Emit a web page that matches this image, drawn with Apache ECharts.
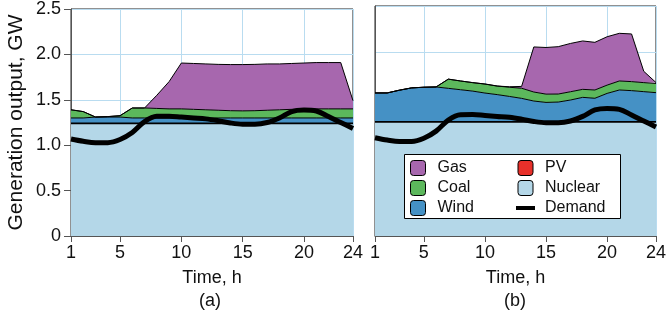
<!DOCTYPE html>
<html>
<head>
<meta charset="utf-8">
<script src="https://cdn.jsdelivr.net/npm/echarts@6/dist/echarts.min.js"></script>
<style>
    html, body { margin: 0; padding: 0; background: #fff; }
    #chart { width: 669px; height: 313px; }
</style>
</head>
<body>
<div id="chart"></div>
<script>
// hours 1..24
var hours = [];
for (var h = 1; h <= 24; h++) hours.push(String(h));
var shownHours = ["1", "5", "10", "15", "20", "24"];

// GW
var nuclear = [1.24, 1.24, 1.24, 1.24, 1.24, 1.24, 1.24, 1.24, 1.24, 1.24, 1.24, 1.24,
    1.24, 1.24, 1.24, 1.24, 1.24, 1.24, 1.24, 1.24, 1.24, 1.24, 1.24, 1.24];
var pv = [0, 0, 0, 0, 0, 0, 0, 0, 0, 0, 0, 0, 0, 0, 0, 0, 0, 0, 0, 0, 0, 0, 0, 0];
var demand = [1.068, 1.043, 1.027, 1.028, 1.063, 1.14, 1.26, 1.318, 1.32, 1.31, 1.30, 1.29,
    1.27, 1.245, 1.232, 1.232, 1.25, 1.30, 1.37, 1.387, 1.377, 1.315, 1.25, 1.185];

// (a)
var windA = [0.06, 0.06, 0.07, 0.07, 0.07, 0.06, 0.06, 0.06, 0.06, 0.06, 0.06, 0.06,
    0.06, 0.06, 0.06, 0.06, 0.06, 0.06, 0.06, 0.06, 0.06, 0.06, 0.06, 0.06];
var coalA = [0.09, 0.07, 0, 0.005, 0.015, 0.11, 0.11, 0.105, 0.10, 0.10, 0.095, 0.09,
    0.085, 0.08, 0.078, 0.08, 0.085, 0.09, 0.095, 0.10, 0.10, 0.10, 0.10, 0.10];
var gasA = [0, 0, 0, 0, 0, 0, 0, 0.145, 0.30, 0.505, 0.505, 0.505,
    0.505, 0.508, 0.51, 0.51, 0.51, 0.505, 0.505, 0.505, 0.51, 0.51, 0.51, 0.09];

// (b)
var windB = [0.315, 0.315, 0.345, 0.37, 0.377, 0.38, 0.365, 0.35, 0.335, 0.314, 0.297, 0.277,
    0.256, 0.227, 0.212, 0.216, 0.238, 0.267, 0.257, 0.31, 0.347, 0.34, 0.329, 0.318];
var coalB = [0, 0, 0, 0, 0, 0, 0.10, 0.095, 0.092, 0.098, 0.093, 0.10,
    0.11, 0.098, 0.09, 0.087, 0.09, 0.087, 0.09, 0.09, 0.098, 0.098, 0.098, 0.10];
var gasB = [0, 0, 0, 0, 0, 0, 0, 0, 0, 0, 0, 0.005,
    0.02, 0.49, 0.507, 0.515, 0.525, 0.526, 0.518, 0.526, 0.518, 0.518, 0.123, 0.01];

var COLORS = {
    Gas: "#a767ae",
    Coal: "#5cb85c",
    Wind: "#4591c5",
    PV: "#e8302a",
    Nuclear: "#b4d7e8"
};
var FONT = "Liberation Sans";
var GRID_COLOR = "#b9dcf0";
var SQUARE = "path://M3,0H12A3,3 0 0 1 15,3V12A3,3 0 0 1 12,15H3A3,3 0 0 1 0,12V3A3,3 0 0 1 3,0Z";

function showHour(idx, val) {
    return shownHours.indexOf(String(val)) >= 0;
}

function areaSeries(name, data, idx, lineWidth) {
    return {
        name: name,
        type: "line",
        xAxisIndex: idx,
        yAxisIndex: idx,
        stack: "gen" + idx,
        data: data,
        color: COLORS[name],
        symbol: "none",
        lineStyle: { color: "#000", width: lineWidth },
        areaStyle: { color: COLORS[name], opacity: 1 },
        silent: true,
        z: 2
    };
}

function panelSeries(idx, wind, coal, gas) {
    return [
        areaSeries("Nuclear", nuclear, idx, 1.6),
        areaSeries("PV", pv, idx, 0),
        areaSeries("Wind", wind, idx, 1),
        areaSeries("Coal", coal, idx, 1),
        areaSeries("Gas", gas, idx, 1),
        {
            name: "Demand",
            type: "line",
            xAxisIndex: idx,
            yAxisIndex: idx,
            data: demand,
            color: "#000",
            symbol: "none",
            smooth: 0.35,
            lineStyle: { color: "#000", width: 5 },
            z: 3
        }
    ];
}

function xAxis(idx) {
    return {
        type: "category",
        gridIndex: idx,
        data: hours,
        boundaryGap: false,
        name: "Time, h",
        nameLocation: "middle",
        nameGap: 33,
        nameTextStyle: { fontFamily: FONT, fontSize: 18, color: "#111" },
        axisLine: { lineStyle: { color: "#555", width: 1 } },
        axisTick: { show: true, length: 6, interval: showHour, lineStyle: { color: "#555" } },
        axisLabel: { interval: showHour, fontFamily: FONT, fontSize: 18, color: "#111", margin: 8 },
        splitLine: { show: true, interval: showHour, lineStyle: { color: GRID_COLOR, width: 1 } }
    };
}

function yAxis(idx, labels) {
    return {
        type: "value",
        gridIndex: idx,
        min: 0,
        max: 2.5,
        interval: 0.5,
        name: labels ? "Generation output, GW" : "",
        nameLocation: "middle",
        nameGap: 44,
        nameTextStyle: { fontFamily: FONT, fontSize: 21, color: "#111" },
        axisLine: { show: true, lineStyle: { color: "#555", width: 1 } },
        axisTick: { show: labels, length: 7, lineStyle: { color: "#555" } },
        axisLabel: {
            show: labels,
            fontFamily: FONT,
            fontSize: 18,
            color: "#111",
            margin: 10,
            formatter: function (v) { return v === 0 ? "0" : v.toFixed(1); }
        },
        splitLine: { show: true, lineStyle: { color: GRID_COLOR, width: 1 } }
    };
}

var legendText = { fontFamily: FONT, fontSize: 16, color: "#111", padding: [0, 0, 0, 5] };
var legendStyle = { borderColor: "#000", borderWidth: 1 };

var option = {
    animation: false,
    backgroundColor: "#fff",
    grid: [
        { left: 71, top: 6, width: 282, height: 230, show: true, borderColor: "#222", borderWidth: 1, backgroundColor: "transparent" },
        { left: 375, top: 6, width: 282, height: 230, show: true, borderColor: "#222", borderWidth: 1, backgroundColor: "transparent" }
    ],
    xAxis: [xAxis(0), xAxis(1)],
    yAxis: [yAxis(0, true), yAxis(1, false)],
    legend: [
        {
            left: 410, top: 160, orient: "vertical", padding: 0,
            itemWidth: 19, itemHeight: 15, itemGap: 4,
            textStyle: legendText, itemStyle: legendStyle, selectedMode: false,
            data: [
                { name: "Gas", icon: SQUARE },
                { name: "Coal", icon: SQUARE },
                { name: "Wind", icon: SQUARE }
            ]
        },
        {
            left: 516, top: 160, orient: "vertical", padding: 0,
            itemWidth: 19, itemHeight: 15, itemGap: 4,
            textStyle: legendText, itemStyle: legendStyle, selectedMode: false,
            data: [
                { name: "PV", icon: SQUARE },
                { name: "Nuclear", icon: SQUARE },
                { name: "Demand", icon: "path://M0,0H19V4H0Z", itemStyle: { borderWidth: 0 } }
            ]
        }
    ],
    graphic: [
        {
            type: "rect", z: 3,
            shape: { x: 404.5, y: 154.5, width: 216, height: 64 },
            style: { fill: "#fff", stroke: "#000", lineWidth: 1 }
        },
        {
            type: "text", left: 199, top: 292,
            style: { text: "(a)", font: "18px " + FONT, fill: "#111" }
        },
        {
            type: "text", left: 504, top: 292,
            style: { text: "(b)", font: "18px " + FONT, fill: "#111" }
        }
    ],
    series: panelSeries(0, windA, coalA, gasA).concat(panelSeries(1, windB, coalB, gasB))
};

var chart = echarts.init(document.getElementById("chart"), null, { renderer: "canvas" });
chart.setOption(option);
</script>
</body>
</html>
